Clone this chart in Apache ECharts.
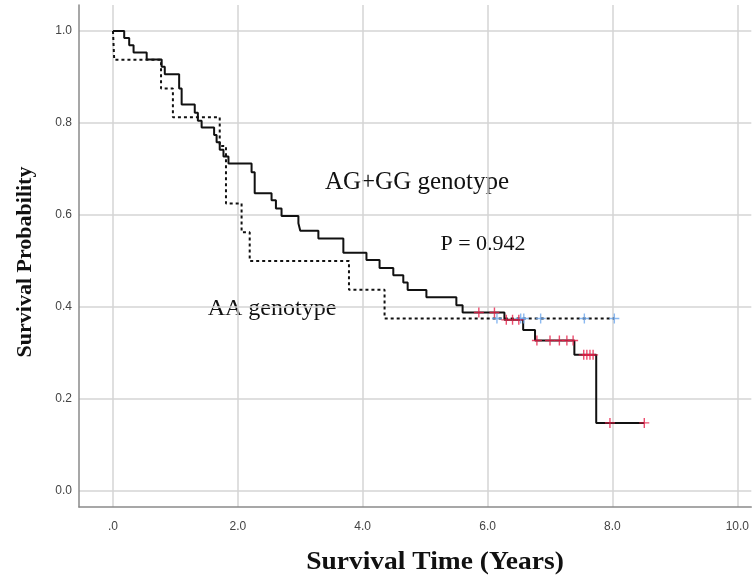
<!DOCTYPE html>
<html>
<head>
<meta charset="utf-8">
<script src="https://cdn.jsdelivr.net/npm/echarts@6/dist/echarts.min.js"></script>
<style>html,body{margin:0;padding:0;background:#fff;}#c{width:752px;height:576px;}</style>
</head>
<body>
<div id="c"></div>
<script>
// AG+GG genotype KM step curve (time, survival after event)
const agTimes = [0, 0.18, 0.26, 0.33, 0.54, 0.78, 0.83, 1.06, 1.10, 1.31, 1.36, 1.42, 1.62, 1.66, 1.71, 1.77, 1.85, 2.22, 2.27, 2.54, 2.61, 2.70, 2.97, 3.00, 3.29, 3.69, 4.06, 4.27, 4.49, 4.65, 4.72, 5.02, 5.50, 5.60, 6.27, 6.57, 6.76, 7.39, 7.74, 8.51];
const agSurv  = [1.0, 0.985, 0.969, 0.953, 0.938, 0.922, 0.906, 0.875, 0.840, 0.822, 0.805, 0.790, 0.774, 0.758, 0.742, 0.727, 0.712, 0.693, 0.647, 0.632, 0.614, 0.598, 0.582, 0.566, 0.549, 0.518, 0.502, 0.485, 0.469, 0.453, 0.437, 0.421, 0.404, 0.388, 0.372, 0.350, 0.327, 0.296, 0.148, 0.148];
// AA genotype KM step curve
const aaTimes = [0, 0.02, 0.77, 0.96, 1.71, 1.81, 2.06, 2.19, 3.78, 4.35, 8.03];
const aaSurv  = [1.0, 0.9375, 0.875, 0.8125, 0.75, 0.625, 0.5625, 0.5, 0.4375, 0.375, 0.375];
// censored observations
const agCensor = [5.86, 6.11, 6.30, 6.40, 6.50, 6.79, 7.00, 7.15, 7.27, 7.37, 7.54, 7.59, 7.64, 7.69, 7.96, 8.51];
const aaCensor = [6.15, 6.53, 6.58, 6.85, 7.55, 8.03];
// tick labels
const xTicks = [0, 2, 4, 6, 8, 10];
const xTickLabels = ['.0', '2.0', '4.0', '6.0', '8.0', '10.0'];
const yTicks = [0, 0.2, 0.4, 0.6, 0.8, 1.0];
const yTickLabels = ['0.0', '0.2', '0.4', '0.6', '0.8', '1.0'];

function levelAt(times, surv, t) {
  let v = surv[0];
  for (let i = 0; i < times.length; i++) { if (times[i] <= t) v = surv[i]; }
  return v;
}
const zip = (a, b) => a.map((v, i) => [v, b[i]]);
const plus = 'path://M-0.7,-5L0.7,-5L0.7,-0.7L5,-0.7L5,0.7L0.7,0.7L0.7,5L-0.7,5L-0.7,0.7L-5,0.7L-5,-0.7L-0.7,-0.7Z';

const chart = echarts.init(document.getElementById('c'), null, {renderer: 'canvas'});
chart.setOption({
  animation: false,
  backgroundColor: '#fff',
  grid: {left: 79, right: 0, top: 5, bottom: 69, containLabel: false},
  xAxis: {
    type: 'value', min: -0.544, max: 10.224,
    axisLine: {show: true, onZero: false, lineStyle: {color: '#8a8a8a', width: 1.5}},
    axisTick: {show: false, customValues: xTicks},
    splitLine: {show: true, lineStyle: {color: '#d4d4d4', width: 1.5}},
    axisLabel: {customValues: xTicks, margin: 14, color: '#444', fontFamily: 'Liberation Sans', fontSize: 12,
      formatter: v => xTickLabels[xTicks.indexOf(Math.round(v))]}
  },
  yAxis: {
    type: 'value', min: -0.0348, max: 1.0565,
    axisLine: {show: true, onZero: false, lineStyle: {color: '#8a8a8a', width: 1.5}},
    axisTick: {show: false, customValues: yTicks},
    splitLine: {show: true, lineStyle: {color: '#d4d4d4', width: 1.5}},
    axisLabel: {customValues: yTicks, margin: 7, color: '#444', fontFamily: 'Liberation Sans', fontSize: 12,
      formatter: v => yTickLabels[yTicks.indexOf(Math.round(v * 10) / 10)]}
  },
  series: [
    {type: 'line', step: 'end', showSymbol: false, data: zip(aaTimes, aaSurv),
      lineStyle: {color: '#111', width: 2, type: [3, 3]}, z: 2},
    {type: 'line', step: 'end', showSymbol: false, data: zip(agTimes, agSurv),
      lineStyle: {color: '#111', width: 2}, z: 3},
    {type: 'scatter', symbol: plus, symbolSize: 10, z: 4,
      data: aaCensor.map(t => [t, levelAt(aaTimes, aaSurv, t)]),
      itemStyle: {color: '#6ea8ee'}},
    {type: 'scatter', symbol: plus, symbolSize: 10, z: 5,
      data: agCensor.map(t => [t, levelAt(agTimes, agSurv, t)]),
      itemStyle: {color: '#e8204a'}}
  ],
  graphic: [
    {type: 'text', x: 417, y: 182, style: {text: 'AG+GG genotype', font: '25px "Liberation Serif"', fill: '#111', textAlign: 'center', textVerticalAlign: 'middle'}},
    {type: 'text', x: 483, y: 244, style: {text: 'P = 0.942', font: '22px "Liberation Serif"', fill: '#111', textAlign: 'center', textVerticalAlign: 'middle'}},
    {type: 'text', x: 272, y: 309, style: {text: 'AA genotype', font: '24px "Liberation Serif"', fill: '#111', textAlign: 'center', textVerticalAlign: 'middle'}},
    {type: 'text', x: 435, y: 563, scaleX: 1.1, style: {text: 'Survival Time (Years)', font: 'bold 25px "Liberation Serif"', fill: '#111', textAlign: 'center', textVerticalAlign: 'middle'}},
    {type: 'text', x: 25, y: 262, rotation: Math.PI / 2, style: {text: 'Survival Probability', font: 'bold 22px "Liberation Serif"', fill: '#111', textAlign: 'center', textVerticalAlign: 'middle'}}
  ]
});
</script>
</body>
</html>
